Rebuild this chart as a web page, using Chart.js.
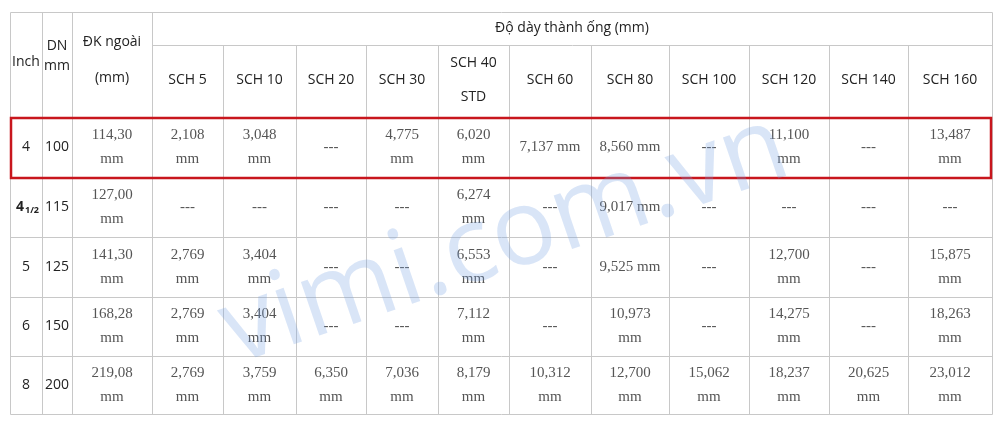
<!DOCTYPE html>
<html>
<head>
<meta charset="utf-8">
<script src="https://cdn.jsdelivr.net/npm/chart.js@4"></script>
<style>
  body { margin: 0; background: #fff; }
  #wrap { width: 1000px; height: 426px; }
</style>
</head>
<body>
<div id="wrap"><canvas id="tbl"></canvas></div>
<script>
// ---- data ----
const schLabels = ['SCH 5', 'SCH 10', 'SCH 20', 'SCH 30', 'SCH 40|STD', 'SCH 60', 'SCH 80', 'SCH 100', 'SCH 120', 'SCH 140', 'SCH 160'];
const inchSizes = ['4', '4 1/2', '5', '6', '8'];
const dnSizes = ['100', '115', '125', '150', '200'];
const outerDiameters = ['114,30', '127,00', '141,30', '168,28', '219,08'];
const wallRow4 = ['2,108', '3,048', '', '4,775', '6,020', '7,137', '8,560', '', '11,100', '', '13,487'];
const wallRow4half = ['', '', '', '', '6,274', '', '9,017', '', '', '', ''];
const wallRow5 = ['2,769', '3,404', '', '', '6,553', '', '9,525', '', '12,700', '', '15,875'];
const wallRow6 = ['2,769', '3,404', '', '', '7,112', '', '10,973', '', '14,275', '', '18,263'];
const wallRow8 = ['2,769', '3,759', '6,350', '7,036', '8,179', '10,312', '12,700', '15,062', '18,237', '20,625', '23,012'];
const wallRows = [wallRow4, wallRow4half, wallRow5, wallRow6, wallRow8];
// cells printed on a single line: [row, col]
const oneLineCells = [[0, 5], [0, 6], [1, 6], [2, 6]];

// ---- layout (pixels in chart units) ----
const colEdges = [10, 42, 72, 152, 223, 296, 366, 438, 509, 591, 669, 749, 829, 908, 992];
const rowEdges = [12, 45, 117, 177, 237, 297, 356, 414];

const sans = '"Open Sans", Lato, sans-serif';
const serif = '"Liberation Serif", "DejaVu Serif", serif';

const tablePlugin = {
  id: 'table',
  afterDraw(chart) {
    const ctx = chart.ctx;
    const xs = chart.scales.x, ys = chart.scales.y;
    const X = v => xs.getPixelForValue(v);
    const Y = v => ys.getPixelForValue(v);
    const last = colEdges.length - 1;
    ctx.save();

    // grid lines
    ctx.strokeStyle = '#c8c8c8';
    ctx.lineWidth = 1;
    const line = (x1, y1, x2, y2) => { ctx.beginPath(); ctx.moveTo(x1 + 0.5, y1 + 0.5); ctx.lineTo(x2 + 0.5, y2 + 0.5); ctx.stroke(); };
    rowEdges.forEach((r, i) => {
      if (i === 1) line(X(colEdges[3]), Y(r), X(colEdges[last]), Y(r));
      else line(X(colEdges[0]), Y(r), X(colEdges[last]), Y(r));
    });
    colEdges.forEach((c, i) => {
      const top = (i > 3 && i < last) ? rowEdges[1] : rowEdges[0];
      line(X(c), Y(top), X(c), Y(rowEdges[rowEdges.length - 1]));
    });

    const text = (s, x, y, font, color) => {
      ctx.font = font; ctx.fillStyle = color || '#333';
      ctx.textAlign = 'center'; ctx.textBaseline = 'middle';
      ctx.fillText(s, x, y);
    };
    const mid = (a, b) => (X(a) + X(b)) / 2;
    const midY = (a, b) => (Y(a) + Y(b)) / 2;

    // header
    const hf = '14px ' + sans;
    text('Inch', mid(colEdges[0], colEdges[1]), midY(rowEdges[0], rowEdges[2]) - 2, hf, '#222');
    text('DN', mid(colEdges[1], colEdges[2]), Y(46), hf, '#222');
    text('mm', mid(colEdges[1], colEdges[2]), Y(66), hf, '#222');
    text('ĐK ngoài', mid(colEdges[2], colEdges[3]), Y(42), hf, '#222');
    text('(mm)', mid(colEdges[2], colEdges[3]), Y(78), hf, '#222');
    text('Độ dày thành ống (mm)', mid(colEdges[3], colEdges[last]), Y(28), hf, '#222');
    schLabels.forEach((lab, i) => {
      const parts = lab.split('|');
      const cx = mid(colEdges[i + 3], colEdges[i + 4]);
      if (parts.length === 1) text(parts[0], cx, Y(80), hf, '#222');
      else { text(parts[0], cx, Y(63), hf, '#222'); text(parts[1], cx, Y(97), hf, '#222'); }
    });

    // body
    const nf = '15px ' + serif;
    const nc = '#555';
    wallRows.forEach((vals, r) => {
      const y0 = rowEdges[r + 2], y1 = rowEdges[r + 3];
      const cy = midY(y0, y1);
      const inch = inchSizes[r];
      if (inch.includes(' ')) {
        const [a, b] = inch.split(' ');
        text(a, mid(colEdges[0], colEdges[1]) - 6, cy, 'bold 14px ' + sans, '#222');
        text(b, mid(colEdges[0], colEdges[1]) + 6, cy + 3, 'bold 9px ' + sans, '#222');
      } else {
        text(inch, mid(colEdges[0], colEdges[1]), cy, '14px ' + sans, '#222');
      }
      text(dnSizes[r], mid(colEdges[1], colEdges[2]), cy, '14px ' + sans, '#222');
      text(outerDiameters[r], mid(colEdges[2], colEdges[3]), cy - 12, nf, nc);
      text('mm', mid(colEdges[2], colEdges[3]), cy + 12, nf, nc);
      vals.forEach((v, c) => {
        const cx = mid(colEdges[c + 3], colEdges[c + 4]);
        if (!v) { text('---', cx, cy, nf, nc); return; }
        if (oneLineCells.some(p => p[0] === r && p[1] === c)) text(v + ' mm', cx, cy, nf, nc);
        else { text(v, cx, cy - 12, nf, nc); text('mm', cx, cy + 12, nf, nc); }
      });
    });

    // highlight box
    ctx.strokeStyle = '#c8161d';
    ctx.lineWidth = 2.5;
    ctx.strokeRect(X(colEdges[0]) + 1, Y(rowEdges[2]) + 1, X(colEdges[last]) - X(colEdges[0]) - 2, Y(rowEdges[3]) - Y(rowEdges[2]));

    // watermark
    ctx.translate(505, 240);
    ctx.rotate(-0.33);
    ctx.font = '106px ' + sans;
    ctx.fillStyle = 'rgba(120,160,225,0.28)';
    ctx.textAlign = 'center'; ctx.textBaseline = 'middle';
    ctx.fillText('vimi.com.vn', 0, 0);
    ctx.restore();
  }
};

new Chart(document.getElementById('tbl'), {
  type: 'scatter',
  data: { datasets: [] },
  options: {
    responsive: true,
    maintainAspectRatio: false,
    animation: false,
    layout: { padding: 0 },
    plugins: { legend: { display: false }, tooltip: { enabled: false } },
    scales: {
      x: { type: 'linear', min: 0, max: 1000, display: false },
      y: { type: 'linear', min: 0, max: 426, reverse: true, display: false }
    }
  },
  plugins: [tablePlugin]
});
</script>
</body>
</html>
